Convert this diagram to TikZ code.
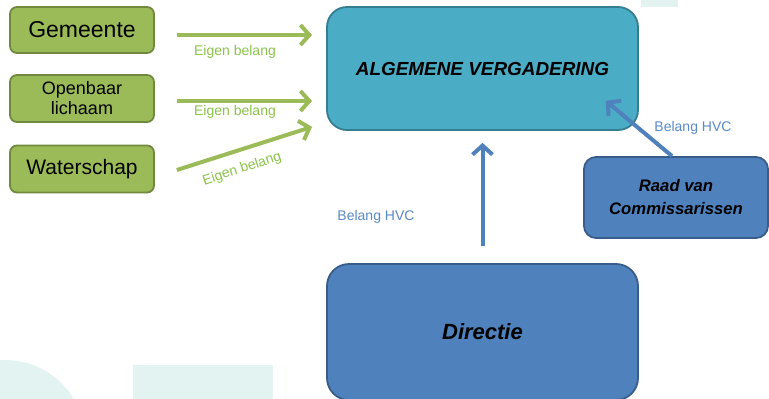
\documentclass[tikz,border=0pt]{standalone}
\usepackage{fontspec}
\setmainfont{Liberation Sans}
\usetikzlibrary{arrows.meta}
\definecolor{bgc}{RGB}{227,243,242}
\definecolor{gfill}{RGB}{155,187,89}
\definecolor{gline}{RGB}{113,137,63}
\definecolor{glabel}{RGB}{140,195,75}
\definecolor{tfill}{RGB}{75,172,198}
\definecolor{tline}{RGB}{53,125,145}
\definecolor{bfill}{RGB}{79,129,189}
\definecolor{bline}{RGB}{56,93,138}
\definecolor{blabel}{RGB}{90,138,200}
\tikzset{
  gbox/.style={draw=gline, fill=gfill, line width=1.8pt, rounded corners=7pt,
    minimum width=144pt, align=center, inner sep=0pt},
  avbox/.style={draw=tline, fill=tfill, line width=1.8pt, rounded corners=20pt,
    minimum width=311pt, minimum height=123pt, inner sep=0pt,
    font=\fontsize{18.9}{22}\selectfont\bfseries\itshape},
  bbox/.style={draw=bline, fill=bfill, line width=1.8pt, inner sep=0pt, align=center,
    font=\bfseries\itshape},
  garrow/.style={draw=gfill, line width=4pt, -{Straight Barb[length=9pt,width=20pt]}},
  barrow/.style={draw=bfill, line width=4pt, -{Straight Barb[length=9pt,width=20pt]}},
  glab/.style={text=glabel, font=\fontsize{14}{16}\selectfont, inner sep=0pt},
  blab/.style={text=blabel, font=\fontsize{14}{16}\selectfont, inner sep=0pt}
}
\begin{document}
\begin{tikzpicture}[x=1pt,y=-1pt]
\clip (0,0) rectangle (769,399);
\fill[white] (0,0) rectangle (769,399);
% background shapes
\fill[bgc] (5,440) circle[radius=80];
\fill[bgc] (133,365) rectangle (273,405);
\fill[bgc] (641,-2) rectangle (678,7);
% green boxes
\node[gbox, minimum height=46pt, font=\fontsize{23}{27}\selectfont] (gem) at (82,30) {Gemeente};
\node[gbox, minimum height=47pt, font=\fontsize{18}{20}\selectfont] (ob) at (82,98.5) {Openbaar\\lichaam};
\node[gbox, minimum height=47pt, font=\fontsize{21}{25}\selectfont] (ws) at (82,169) {Waterschap};
% main boxes
\node[avbox] (av) at (482.5,68.5) {ALGEMENE VERGADERING};
\node[bbox, rounded corners=12pt, minimum width=184pt, minimum height=81pt,
  font=\fontsize{16.7}{23}\selectfont\bfseries\itshape] (raad) at (676,197.5) {Raad van\\Commissarissen};
\node[bbox, rounded corners=22pt, minimum width=311pt, minimum height=136pt,
  font=\fontsize{22}{26}\selectfont\bfseries\itshape] (dir) at (482.5,332) {Directie};
% green arrows
\draw[garrow, shorten <=22pt, shorten >=14pt] ([yshift=-5pt]gem.east) -- ([yshift=-5pt]av.west |- gem.east);
\draw[garrow, shorten <=22pt, shorten >=14pt] ([yshift=-2.5pt]ob.east) -- ([yshift=-2.5pt]av.west |- ob.east);
\draw[garrow, shorten <=23pt, shorten >=14.7pt] ([yshift=-8pt]ws.east) -- ([yshift=8.5pt]av.south west);
\node[glab] (l1) at (235,52) {Eigen belang};
\node[glab] (l2) at (235,112) {Eigen belang};
\node[glab, rotate=18] (l3) at (242,169) {Eigen belang};
% blue arrows
\draw[barrow, shorten <=17pt, shorten >=12pt] (dir.north) -- (av.south);
\draw[barrow] ([xshift=-4pt]raad.north) -- ([xshift=-33pt,yshift=30pt]av.south east);
\node[blab] (b1) at (693,128) {Belang HVC};
\node[blab] (b2) at (376,217) {Belang HVC};
\end{tikzpicture}
\end{document}
